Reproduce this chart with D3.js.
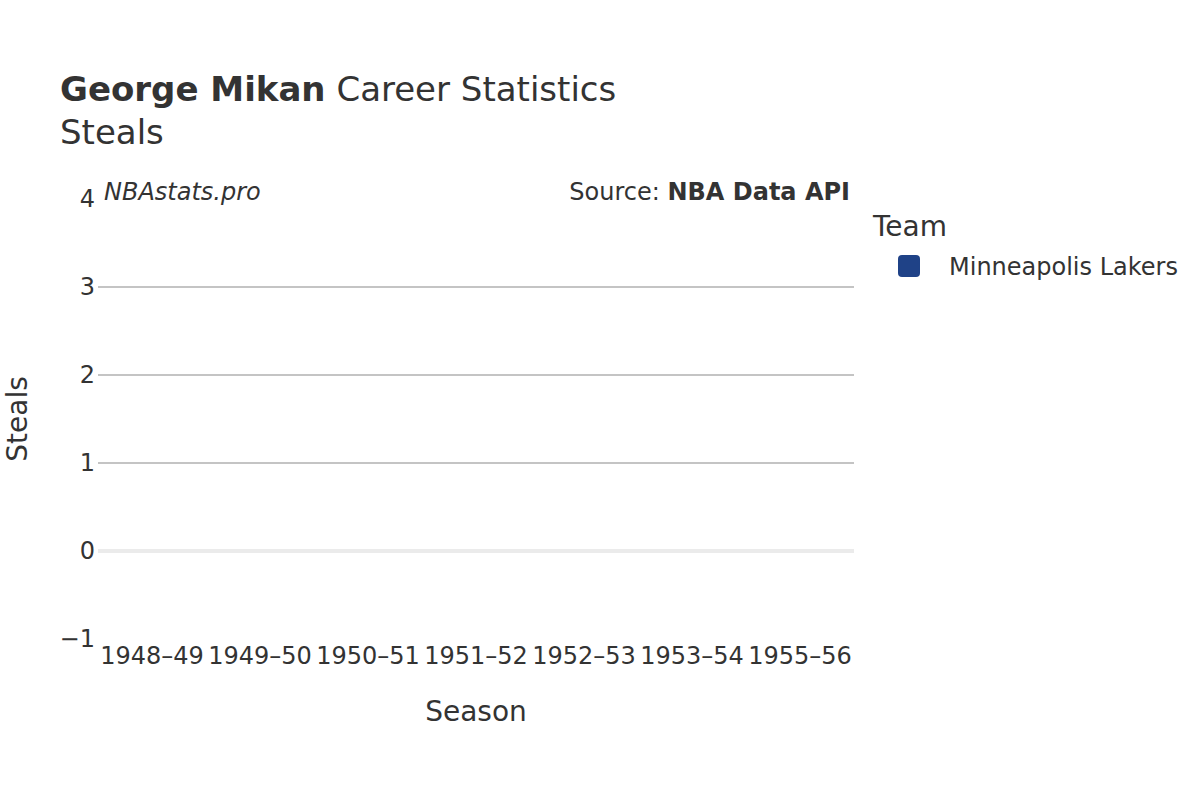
<!DOCTYPE html>
<html><head><meta charset="utf-8">
<script src="https://cdn.jsdelivr.net/npm/d3@7/dist/d3.min.js"></script>
<style>
body{margin:0;background:#fff;}
text{font-family:"DejaVu Sans",sans-serif;fill:#333;}
</style></head>
<body>
<svg id="chart" width="1200" height="800"></svg>
<script>
const seasons = ["1948–49","1949–50","1950–51","1951–52","1952–53","1953–54","1955–56"];
const steals = [null,null,null,null,null,null,null];
const teams = ["Minneapolis Lakers"];
const teamColors = ["#1f4287"];
const yTicks = [-1,0,1,2,3,4];

const svg = d3.select("#chart");
const m = {left:98, right:854, top:199, bottom:639};

const x = d3.scaleBand().domain(seasons).range([m.left, m.right]).paddingInner(0.2).paddingOuter(0.1);
const y = d3.scaleLinear().domain([-1,4]).range([m.bottom, m.top]);

// gridlines
svg.append("g").selectAll("line").data(yTicks.filter(t=>t>-1 && t<4 && t!==0)).join("line")
  .attr("x1",m.left).attr("x2",m.right)
  .attr("y1",d=>y(d)).attr("y2",d=>y(d))
  .attr("stroke","#c4c4c4").attr("stroke-width",2);
svg.append("line").attr("x1",m.left).attr("x2",m.right)
  .attr("y1",y(0)).attr("y2",y(0)).attr("stroke","#ebebeb").attr("stroke-width",4);

// bars (no data)
svg.append("g").selectAll("rect").data(seasons.map((s,i)=>({s,v:steals[i]})).filter(d=>d.v!=null)).join("rect")
  .attr("x",d=>x(d.s)).attr("width",x.bandwidth())
  .attr("y",d=>y(Math.max(0,d.v))).attr("height",d=>Math.abs(y(d.v)-y(0)))
  .attr("fill",teamColors[0]);

// y axis
const yAxis = d3.axisLeft(y).tickValues(yTicks).tickSize(0).tickPadding(3)
  .tickFormat(d=>d<0?"\u2212"+Math.abs(d):String(d));
const ga = svg.append("g").attr("transform",`translate(${m.left},0)`).call(yAxis);
ga.select(".domain").remove();
ga.selectAll("text").style("font-family","DejaVu Sans").style("font-size","24px").attr("fill","#333");

// x axis
const xAxis = d3.axisBottom(x).tickSize(0).tickPadding(8);
const gx = svg.append("g").attr("transform",`translate(0,${m.bottom})`).call(xAxis);
gx.select(".domain").remove();
gx.selectAll("text").style("font-family","DejaVu Sans").style("font-size","24px").attr("fill","#333");

// titles
const t = svg.append("text").attr("x",60).attr("y",101).style("font-size","34px");
t.append("tspan").style("font-weight","bold").text("George Mikan");
t.append("tspan").text(" Career Statistics");
svg.append("text").attr("x",60).attr("y",144).style("font-size","34px").text("Steals");

svg.append("text").attr("x",104).attr("y",200).style("font-size","24px").style("font-style","italic").text("NBAstats.pro");
const src = svg.append("text").attr("x",850).attr("y",200).attr("text-anchor","end").style("font-size","24px");
src.append("tspan").text("Source: ");
src.append("tspan").style("font-weight","bold").text("NBA Data API");

svg.append("text").attr("x",476).attr("y",721).attr("text-anchor","middle").style("font-size","28px").text("Season");
svg.append("text").attr("transform",`translate(27,${(m.top+m.bottom)/2}) rotate(-90)`).attr("text-anchor","middle").style("font-size","28px").text("Steals");

// legend
svg.append("text").attr("x",873).attr("y",236).style("font-size","28px").text("Team");
const lg = svg.append("g").selectAll("g").data(teams).join("g")
  .attr("transform",(d,i)=>`translate(898,${255+i*30})`);
lg.append("rect").attr("width",22).attr("height",22).attr("rx",4).attr("fill",(d,i)=>teamColors[i]);
lg.append("text").attr("x",51).attr("y",20).style("font-size","24px").text(d=>d);
</script>
</body></html>
